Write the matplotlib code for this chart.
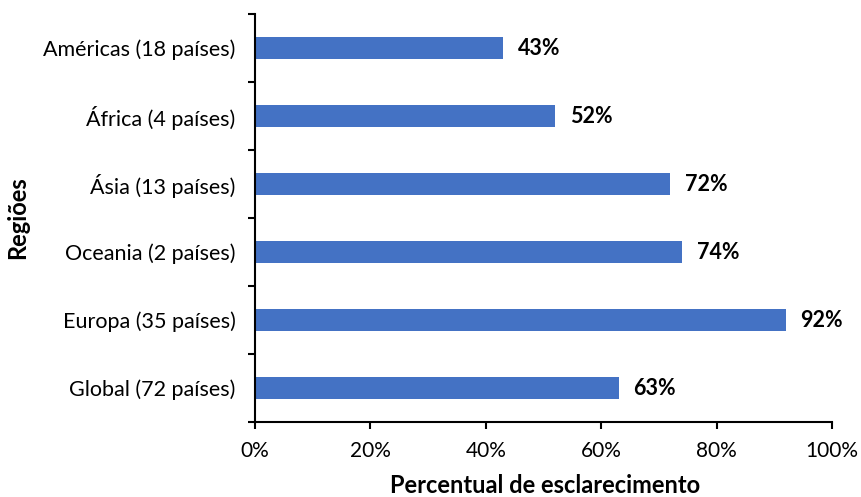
import numpy as np
import matplotlib.pyplot as plt

# dados (de cima para baixo)
regioes = ["Américas (18 países)", "África (4 países)", "Ásia (13 países)",
           "Oceania (2 países)", "Europa (35 países)", "Global (72 países)"]
percentual = [43, 52, 72, 74, 92, 63]
xticks = [0, 20, 40, 60, 80, 100]

plt.rcParams['font.family'] = ['Lato', 'DejaVu Sans']

fig = plt.figure(figsize=(8.62, 4.97), dpi=100)
ax = fig.add_axes([0.2958, 0.1509, 0.6694, 0.8209])

y = np.arange(len(regioes))[::-1]
ax.barh(y, percentual, height=0.33, color="#4472C4")

for yi, v in zip(y, percentual):
    ax.annotate(f"{v}%", (v, yi), xytext=(10.5, 0), textcoords="offset points",
                ha="left", va="center", fontsize=15.5, fontweight="bold")

ax.set_xlim(0, 100)
ax.set_ylim(-0.5, len(regioes) - 0.5)
ax.set_xticks(xticks)
ax.set_xticklabels([f"{t}%" for t in xticks], fontsize=15)
ax.set_yticks(y)
ax.set_yticklabels(regioes, fontsize=15.5)
ax.set_yticks(np.arange(-0.5, len(regioes)), minor=True)
ax.tick_params(axis="y", which="major", length=0, pad=14)
ax.tick_params(axis="y", which="minor", length=5, width=1.5, direction="out")
ax.tick_params(axis="x", length=5, width=1.5, direction="out", pad=9)

for s in ["top", "right"]:
    ax.spines[s].set_visible(False)
for s in ["left", "bottom"]:
    ax.spines[s].set_linewidth(1.5)

ax.set_xlabel("Percentual de esclarecimento", fontsize=17, fontweight="bold")
ax.set_ylabel("Regiões", fontsize=17, fontweight="bold")
ax.xaxis.set_label_coords(0.503, -0.127)
ax.yaxis.set_label_coords(-0.392, 0.5)

fig.savefig("out.png", dpi=100)
